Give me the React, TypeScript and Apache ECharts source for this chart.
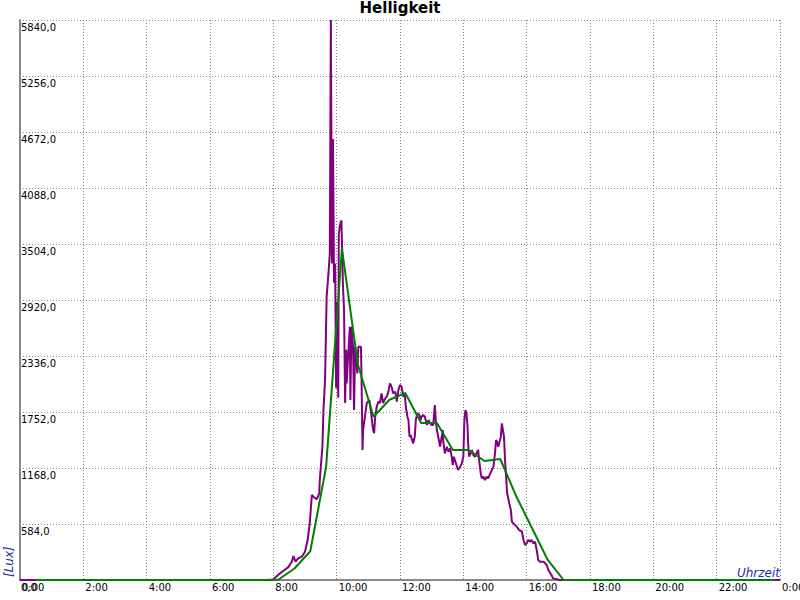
import React, { useEffect, useRef } from "react";
import * as echarts from "echarts";

// Raw brightness readings (purple)
const rawTimes = [
  "0:00", "7:56", "8:00", "8:09", "8:19", "8:28", "8:35", "8:38", "8:42", "8:47", "8:54",
  "9:00", "9:05", "9:09", "9:13", "9:16", "9:22", "9:27", "9:28", "9:33", "9:35", "9:38",
  "9:41", "9:44", "9:47", "9:49", "9:51", "9:53", "9:55", "9:57", "9:59", "10:01", "10:03",
  "10:04", "10:06", "10:09", "10:12", "10:14", "10:16", "10:18", "10:19", "10:22", "10:25",
  "10:26", "10:28", "10:31", "10:33", "10:35", "10:38", "10:39", "10:41", "10:46", "10:47",
  "10:49", "10:50", "10:54", "10:57", "11:02", "11:06", "11:09", "11:11", "11:13", "11:16",
  "11:19", "11:22", "11:25", "11:28", "11:32", "11:35", "11:38", "11:41", "11:44", "11:47",
  "11:51", "11:54", "11:57", "12:00", "12:03", "12:06", "12:09", "12:11", "12:14", "12:16",
  "12:18", "12:20", "12:22", "12:25", "12:28", "12:30", "12:33", "12:37", "12:39", "12:41",
  "12:44", "12:47", "12:51", "12:54", "12:57", "13:00", "13:03", "13:06", "13:08", "13:10",
  "13:13", "13:16", "13:19", "13:21", "13:22", "13:25", "13:29", "13:32", "13:35", "13:38",
  "13:40", "13:42", "13:44", "13:47", "13:50", "13:54", "13:57", "14:00", "14:02", "14:04",
  "14:06", "14:08", "14:09", "14:11", "14:14", "14:16", "14:19", "14:22", "14:25", "14:28",
  "14:30", "14:33", "14:35", "14:38", "14:41", "14:44", "14:47", "14:51", "14:54", "14:57",
  "15:00", "15:02", "15:04", "15:06", "15:08", "15:11", "15:13", "15:14", "15:17", "15:19",
  "15:21", "15:23", "15:27", "15:30", "15:32", "15:35", "15:41", "15:46", "15:51", "15:54",
  "15:57", "16:00", "16:03", "16:06", "16:09", "16:13", "16:16", "16:19", "16:22", "16:25",
  "16:32", "16:38", "16:41", "16:47", "16:50", "16:57", "17:03", "24:00"
];
const rawValues = [
  0, 0, 7, 52, 97, 132, 191, 250, 191, 226, 243,
  295, 417, 594, 886, 869, 841, 904, 1043, 1390, 1773, 2086,
  2955, 3163, 3406, 5840, 3300, 4600, 3100, 3300, 2000, 2900, 1900,
  3600, 3700, 3750, 3060, 2815, 1845, 2400, 2050, 2365, 2640,
  1877, 2642, 2433, 1773, 2433, 2260, 2155, 2433, 2433, 2155,
  1356, 1564, 1720, 1845, 1877, 1703, 1564, 1530, 1703, 1807,
  1860, 1845, 1947, 1845, 1894, 1912, 1964, 2050, 2016, 1947,
  1964, 1860, 1981, 2033, 2016, 1912, 1947, 1807, 1703, 1668,
  1495, 1512, 1477, 1425, 1495, 1668, 1738, 1720, 1668, 1703,
  1720, 1703, 1616, 1668, 1634, 1616, 1616, 1825, 1651, 1564,
  1477, 1390, 1495, 1564, 1442, 1321, 1390, 1338, 1373, 1286,
  1199, 1286, 1251, 1199, 1147, 1182, 1216, 1286, 1668, 1773,
  1738, 1599, 1425, 1286, 1321, 1356, 1303, 1286, 1321, 1356,
  1251, 1112, 1060, 1077, 1043, 1077, 1060, 1112, 1147, 1182,
  1321, 1460, 1442, 1390, 1425, 1495, 1634, 1599, 1495, 1251,
  1077, 904, 800, 730, 608, 591, 556, 521, 504, 417,
  365, 382, 417, 400, 417, 382, 400, 313, 209, 191,
  191, 156, 104, 52, 17, 7, 0, 0
];

// Half-hourly averages (green)
const avgTimes = [
  "0:30", "7:40", "8:10", "8:40", "9:10", "9:40", "10:10", "10:40", "11:10", "11:40",
  "12:10", "12:40", "13:10", "13:40", "14:10", "14:40", "15:10", "15:40", "16:10",
  "16:40", "17:10", "23:50"
];
const avgValues = [
  0, 0, 5, 120, 300, 1180, 3455, 2250, 1703, 1880,
  1950, 1637, 1637, 1356, 1356, 1241, 1262, 876, 542,
  209, 0, 0
];

const yMax = 5840;
const yStep = 584;
const xTickHours = 2;

const toHours = (s: string) => {
  const [h, m] = s.split(":").map(Number);
  return h + m / 60;
};

export default function App() {
  const ref = useRef<HTMLDivElement>(null);
  useEffect(() => {
    if (!ref.current) return;
    const chart = echarts.init(ref.current, undefined, { renderer: "svg" });
    const rawData = rawTimes.map((t, i) => [toHours(t), rawValues[i]]);
    const avgData = avgTimes.map((t, i) => [toHours(t), avgValues[i]]);
    const font = "DejaVu Sans";
    chart.setOption({
      animation: false,
      backgroundColor: "#ffffff",
      title: {
        text: "Helligkeit",
        left: "center",
        top: 0,
        padding: 0,
        textStyle: { fontFamily: font, fontSize: 15, fontWeight: "bold", color: "#000" },
      },
      grid: {
        left: 20,
        right: 20,
        top: 20,
        bottom: 20,
        containLabel: false,
        outerBoundsMode: "none",
      },
      xAxis: {
        type: "value",
        min: 0,
        max: 24,
        interval: xTickHours,
        axisLine: { show: true, lineStyle: { color: "#888888", width: 2 } },
        axisTick: { show: false },
        axisLabel: {
          show: true,
          showMaxLabel: true,
          showMinLabel: true,
          hideOverlap: false,
          align: "left",
          margin: 2,
          padding: [0, 0, 0, 2],
          fontFamily: font,
          fontSize: 10,
          color: "#000",
          formatter: (v: number) => `${Math.round(v) % 24}:00`,
        },
        splitLine: { show: true, lineStyle: { color: "#888888", width: 1, type: [1, 2] } },
      },
      yAxis: {
        type: "value",
        min: 0,
        max: yMax,
        interval: yStep,
        axisLine: { show: true, lineStyle: { color: "#888888", width: 2 } },
        axisTick: { show: false },
        axisLabel: {
          inside: true,
          showMaxLabel: true,
          align: "left",
          verticalAlign: "top",
          margin: 1,
          padding: [2, 0, 0, 0],
          fontFamily: font,
          fontSize: 10,
          color: "#000",
          formatter: (v: number) => v.toFixed(1).replace(".", ","),
        },
        splitLine: { show: true, lineStyle: { color: "#888888", width: 1, type: [1, 2] } },
      },
      series: [
        {
          type: "line",
          data: rawData,
          showSymbol: false,
          lineStyle: { color: "#800080", width: 2 },
          itemStyle: { color: "#800080" },
          z: 2,
        },
        {
          type: "line",
          data: avgData,
          showSymbol: false,
          lineStyle: { color: "#008000", width: 2 },
          itemStyle: { color: "#008000" },
          z: 3,
        },
      ],
      graphic: [
        {
          type: "text",
          x: 3,
          y: 577,
          rotation: Math.PI / 2,
          style: {
            text: "[Lux]",
            fontFamily: font,
            fontSize: 12,
            fontStyle: "italic",
            fill: "#2b2ba8",
            align: "left",
            verticalAlign: "top",
          },
        },
        {
          type: "text",
          x: 780,
          y: 579,
          style: {
            text: "Uhrzeit",
            fontFamily: font,
            fontSize: 12,
            fontStyle: "italic",
            fill: "#2b2ba8",
            align: "right",
            verticalAlign: "bottom",
          },
        },
      ],
    });
    return () => chart.dispose();
  }, []);
  return (
    <div
      ref={ref}
      style={{ position: "fixed", left: 0, top: 0, width: 800, height: 600, background: "#fff" }}
    />
  );
}
